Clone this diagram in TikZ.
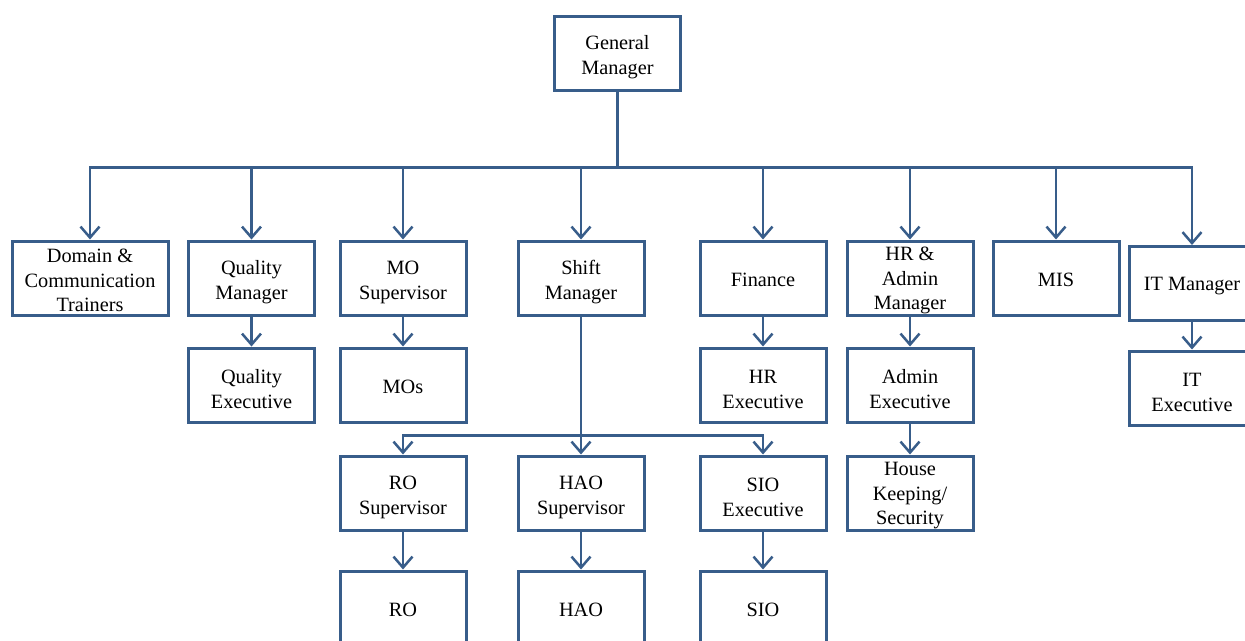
\documentclass[tikz,border=0pt]{standalone}
\usepackage{fontspec}
\setmainfont{Liberation Serif}
\usetikzlibrary{arrows.meta}
\definecolor{orgblue}{HTML}{385D8A}
\newcommand\strA{\rule{0pt}{18pt}}
\newcommand\strB{\rule{0pt}{22.5pt}}
\newcommand\strC{\rule{0pt}{18.5pt}}
\begin{document}
\begin{tikzpicture}[x=1pt,y=-1pt,
  box/.style={draw=orgblue, line width=3pt, fill=white, minimum width=126pt, minimum height=74pt,
    inner sep=0pt, align=center, font=\fontsize{20.3}{24.5}\selectfont},
  link/.style={draw=orgblue, line width=2.5pt},
  arr/.style={link, -{Straight Barb[length=11pt,width=19pt,line width=2.5pt]}}]
\useasboundingbox (0,0) rectangle (1245,640);
\clip (0,0) rectangle (1245,640);
\fill[white] (0,0) rectangle (1245,640);

\node[box] (gm) at (617.5,53) {\strB General\\Manager};

\node[box, minimum width=156pt] (dom) at (90,278) {\strC Domain \&\\Communication\\Trainers};
\node[box] (qm) at (251.5,278) {\strB Quality\\Manager};
\node[box] (mos) at (403,278) {\strB MO\\Supervisor};
\node[box] (sm) at (581,278) {\strB Shift\\Manager};
\node[box] (fin) at (763,278) {\strA Finance};
\node[box] (hr) at (910,278) {\strC HR \&\\Admin\\Manager};
\node[box] (mis) at (1056,278) {\strA MIS};
\node[box] (itm) at (1192,283.5) {\strA IT Manager};

\node[box] (qe) at (251.5,385) {\strB Quality\\Executive};
\node[box] (mo) at (403,385) {\strA MOs};
\node[box] (hre) at (763,385) {\strB HR\\Executive};
\node[box] (ade) at (910,385) {\strB Admin\\Executive};
\node[box] (ite) at (1192,388) {\strB IT\\Executive};

\node[box] (ros) at (403,493) {\strB RO\\Supervisor};
\node[box] (haos) at (581,493) {\strB HAO\\Supervisor};
\node[box] (sioe) at (763,493) {\strB SIO\\Executive};
\node[box] (hk) at (910,493) {\strC House\\Keeping/\\Security};

\node[box] (ro) at (403,608) {\strA RO};
\node[box] (hao) at (581,608) {\strA HAO};
\node[box] (sio) at (763,608) {\strA SIO};

% main bus
\draw[link, line width=3.2pt] (gm.south) -- ++(0,76) coordinate (bj);
\foreach \c in {dom,qm,mos,sm,fin,hr,mis,itm}
  \draw[arr] (bj) -| (\c.north);

% shift manager bus
\draw[link] (sm.south) -- ++(0,119) coordinate (sj);
\foreach \c in {ros,haos,sioe}
  \draw[arr] (sj) -| (\c.north);

% single links
\draw[arr] (qm) -- (qe);
\draw[arr] (mos) -- (mo);
\draw[arr] (fin) -- (hre);
\draw[arr] (hr) -- (ade);
\draw[arr] (ade) -- (hk);
\draw[arr] (itm) -- (ite);
\draw[arr] (ros) -- (ro);
\draw[arr] (haos) -- (hao);
\draw[arr] (sioe) -- (sio);
\end{tikzpicture}
\end{document}
